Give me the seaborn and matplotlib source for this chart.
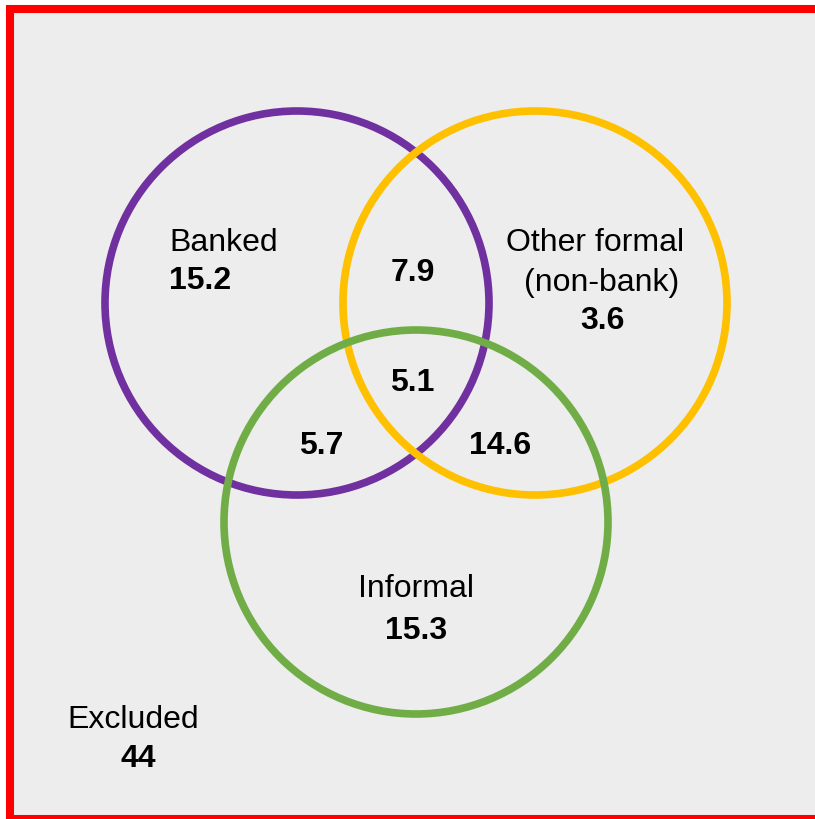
import matplotlib
matplotlib.use("Agg")
import matplotlib.pyplot as plt
import seaborn as sns
from matplotlib.patches import Circle, Rectangle

# data
sets=["Banked","Other formal\n(non-bank)","Informal"]
set_colors=["#7030A0","#FFC000","#70AD47"]
only_values=[15.2,3.6,15.3]
pair_labels=["Banked & Other","Banked & Informal","Other & Informal"]
pair_values=[7.9,5.7,14.6]
all_three=5.1
excluded_label="Excluded"
excluded_value=44

sns.set_theme(style="white")
plt.rcParams["font.family"]=["Liberation Sans","DejaVu Sans"]
plt.rcParams["text.color"]="black"

fig=plt.figure(figsize=(8.15,8.19),dpi=100)
ax=fig.add_axes([0,0,1,1])
ax.set_xlim(0,815)
ax.set_ylim(819,0)
ax.axis("off")

# grey panel, red frame on left/top/bottom (right edge is cut off)
ax.add_patch(Rectangle((10,8.8),820,810.5,facecolor="#EDEDED",edgecolor="none"))
ax.plot([10,10,830],[8.8,819.3,819.3],color="#FF0000",lw=5.8,solid_joinstyle="miter")
ax.plot([10,830],[8.8,8.8],color="#FF0000",lw=5.8,solid_capstyle="projecting")

centers=[(297,303),(535,303),(416,522)]
for (cx,cy),col in zip(centers,set_colors):
    ax.add_patch(Circle((cx,cy),192,fill=False,edgecolor=col,lw=5.5))

fs=23
dy=3
# single-set labels
ax.text(169,240+dy,sets[0],fontsize=fs,ha="left",va="center")
ax.text(169,278+dy,f"{only_values[0]}",fontsize=fs,fontweight="bold",ha="left",va="center")
other1,other2=sets[1].split("\n")
ax.text(595,240+dy,other1,fontsize=fs,ha="center",va="center")
ax.text(602,280+dy,other2,fontsize=fs,ha="center",va="center")
ax.text(602,318+dy,f"{only_values[1]}",fontsize=fs,fontweight="bold",ha="center",va="center")
ax.text(416,586+dy,sets[2],fontsize=fs,ha="center",va="center")
ax.text(416,628+dy,f"{only_values[2]}",fontsize=fs,fontweight="bold",ha="center",va="center")

# overlaps
for (x,y),v in zip([(413,270),(321,443),(500,443)],pair_values):
    ax.text(x,y+dy,f"{v}",fontsize=fs,fontweight="bold",ha="center",va="center")
ax.text(412,380+dy,f"{all_three}",fontsize=fs,fontweight="bold",ha="center",va="center")

ax.text(133,717+dy,excluded_label,fontsize=fs,ha="center",va="center")
ax.text(138,756+dy,f"{excluded_value}",fontsize=fs,fontweight="bold",ha="center",va="center")

plt.savefig("out.png",dpi=100)
